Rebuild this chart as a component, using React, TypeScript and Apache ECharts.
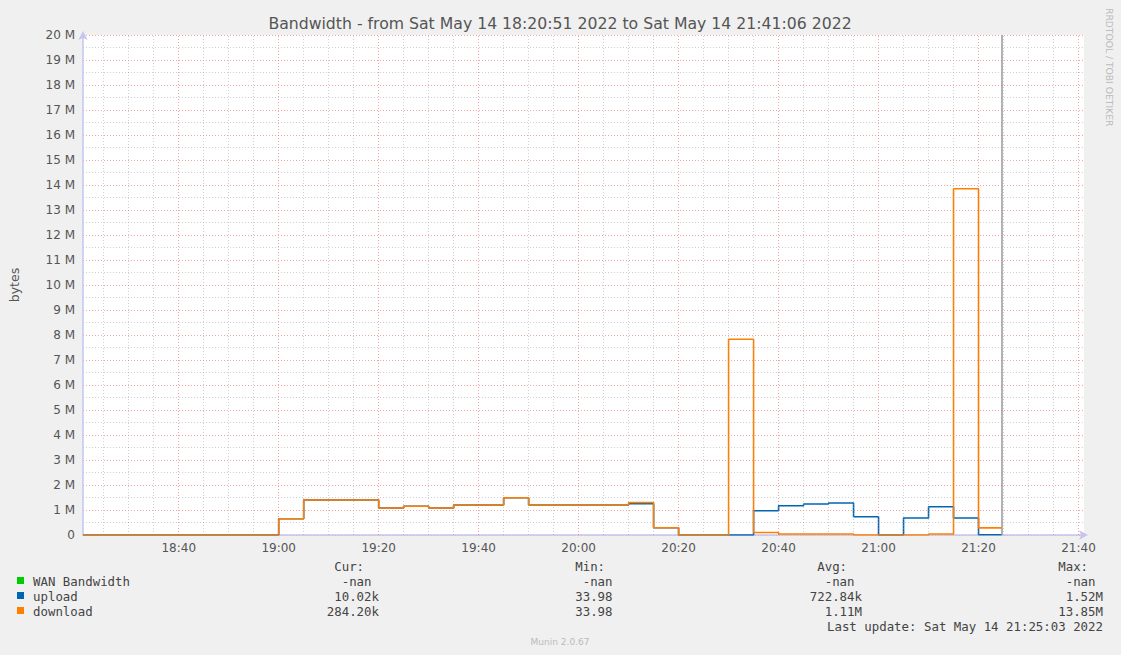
import React, { useEffect, useRef } from "react";
import * as echarts from "echarts";

// ---------- data ----------
const titleText = "Bandwidth - from Sat May 14 18:20:51 2022 to Sat May 14 21:41:06 2022";
const rangeStart = "18:20:51";
const rangeEnd = "21:41:06";
const nowTime = "21:24:40";

// period start times (5-minute munin samples, only changes listed), last entry = end of data
const times = [
  "18:20:51", "19:00", "19:05", "19:20", "19:25", "19:30", "19:35", "19:45", "19:50",
  "20:10", "20:15", "20:20", "20:30", "20:35", "20:40", "20:45", "20:50", "20:55",
  "21:00", "21:05", "21:10", "21:15", "21:20", "21:24:40",
];
// values in M bytes
const uploadM = [
  0, 0.65, 1.4, 1.08, 1.15, 1.08, 1.2, 1.49, 1.2,
  1.25, 0.29, 0.0, 0.0, 0.97, 1.17, 1.24, 1.28, 0.73,
  0.0, 0.68, 1.13, 0.68, 0.01, 0.01,
];
const downloadM = [
  0, 0.65, 1.4, 1.08, 1.15, 1.08, 1.2, 1.49, 1.2,
  1.3, 0.29, 0.0, 7.83, 0.1, 0.04, 0.04, 0.04, 0.0,
  0.0, 0.0, 0.04, 13.85, 0.284, 0.284,
];

const majorXTicks = ["18:40", "19:00", "19:20", "19:40", "20:00", "20:20", "20:40", "21:00", "21:20", "21:40"];
const yMaxM = 20;

const legendNames = ["WAN Bandwidth", "upload", "download"];
const legendColors = ["#00cc00", "#0066b3", "#ff8000"];
const curValues = ["-nan", "10.02k", "284.20k"];
const minValues = ["-nan", "33.98", "33.98"];
const avgValues = ["-nan", "722.84k", "1.11M"];
const maxValues = ["-nan", "1.52M", "13.85M"];
const lastUpdate = "Last update: Sat May 14 21:25:03 2022";

// ---------- helpers ----------
function toMin(t: string): number {
  const p = t.split(":").map(Number);
  return p[0] * 60 + p[1] + (p[2] || 0) / 60;
}
function fmtMin(v: number): string {
  const h = Math.floor(v / 60);
  const m = Math.round(v - h * 60);
  return String(h).padStart(2, "0") + ":" + String(m).padStart(2, "0");
}

export default function App() {
  const ref = useRef<HTMLDivElement>(null);

  useEffect(() => {
    if (!ref.current) return;
    const chart = echarts.init(ref.current, undefined, { renderer: "svg" });

    const xMin = toMin(rangeStart);
    const xMax = toMin(rangeEnd);
    const majors = majorXTicks.map(toMin);
    const minors: number[] = [];
    for (let v = Math.ceil(xMin / 5) * 5; v <= xMax; v += 5) {
      if (!majors.some((m) => Math.abs(m - v) < 0.01)) minors.push(v);
    }

    const upData = times.map((t, i) => [toMin(t), uploadM[i] * 1e6]);
    const downData = times.map((t, i) => [toMin(t), downloadM[i] * 1e6]);

    const gridLines = [
      ...minors.map((v) => ({
        xAxis: v,
        lineStyle: { color: "rgba(150,150,150,0.45)", type: [1, 2], width: 1 },
      })),
      ...majors.map((v) => ({
        xAxis: v,
        lineStyle: { color: "rgba(240,90,90,0.55)", type: [1, 2], width: 1 },
      })),
    ];

    const mono = "'DejaVu Sans Mono', monospace";
    const sans = "'DejaVu Sans', sans-serif";
    const monoSize = 12.4;
    const charW = 7.46;
    const rowY = [581, 596, 611];
    const cols = [
      { head: "Cur:", vals: curValues, right: 379 },
      { head: "Min:", vals: minValues, right: 620 },
      { head: "Avg:", vals: avgValues, right: 862 },
      { head: "Max:", vals: maxValues, right: 1103 },
    ];
    const graphics: any[] = [
      {
        type: "text",
        x: 560,
        y: 23,
        style: { text: titleText, font: `15.7px ${sans}`, fill: "#555", align: "center", verticalAlign: "middle" },
      },
      {
        type: "text",
        x: 14,
        y: 285,
        rotation: Math.PI / 2,
        style: { text: "bytes", font: `12.5px ${sans}`, fill: "#555", align: "center", verticalAlign: "middle" },
      },
      {
        type: "text",
        x: 1109,
        y: 8,
        rotation: -Math.PI / 2,
        style: { text: "RRDTOOL / TOBI OETIKER", font: `9.2px ${sans}`, fill: "#bbb", align: "left", verticalAlign: "middle" },
      },
      {
        type: "text",
        x: 560,
        y: 642,
        style: { text: "Munin 2.0.67", font: `9px ${sans}`, fill: "#bbb", align: "center", verticalAlign: "middle" },
      },
      {
        type: "text",
        x: 1103,
        y: 626,
        style: { text: lastUpdate, font: `${monoSize}px ${mono}`, fill: "#444", align: "right", verticalAlign: "middle" },
      },
    ];
    legendNames.forEach((n, i) => {
      graphics.push({
        type: "rect",
        shape: { x: 17, y: rowY[i] - 4, width: 7, height: 7 },
        style: { fill: legendColors[i] },
      });
      graphics.push({
        type: "text",
        x: 33,
        y: rowY[i],
        style: { text: n, font: `${monoSize}px ${mono}`, fill: "#444", align: "left", verticalAlign: "middle" },
      });
    });
    cols.forEach((c) => {
      graphics.push({
        type: "text",
        x: c.right - 2 * charW,
        y: 566,
        style: { text: c.head, font: `${monoSize}px ${mono}`, fill: "#444", align: "right", verticalAlign: "middle" },
      });
      c.vals.forEach((v, i) => {
        const hasUnit = /[kM]$/.test(v);
        graphics.push({
          type: "text",
          x: hasUnit ? c.right : c.right - charW,
          y: rowY[i],
          style: { text: v, font: `${monoSize}px ${mono}`, fill: "#444", align: "right", verticalAlign: "middle" },
        });
      });
    });

    chart.setOption({
      animation: false,
      backgroundColor: "#f0f0f0",
      grid: {
        left: 83,
        top: 35,
        right: 37,
        bottom: 120,
        show: true,
        backgroundColor: "#ffffff",
        borderWidth: 0,
      },
      xAxis: {
        type: "value",
        min: xMin,
        max: xMax,
        axisLine: {
          show: true,
          lineStyle: { color: "#c4c4ee", width: 1.5 },
          symbol: ["none", "arrow"],
          symbolSize: [7, 9],
          symbolOffset: [0, 4],
        },
        axisTick: { show: false },
        axisLabel: {
          customValues: majors,
          formatter: (v: number) => fmtMin(v),
          color: "#555",
          fontSize: 12,
          fontFamily: sans,
          margin: 7,
          showMinLabel: true,
          showMaxLabel: true,
        },
        splitLine: { show: false },
      },
      yAxis: {
        type: "value",
        min: 0,
        max: yMaxM * 1e6,
        interval: 1e6,
        axisLine: {
          show: true,
          lineStyle: { color: "#c4c4ee", width: 1.5 },
          symbol: ["none", "arrow"],
          symbolSize: [7, 9],
          symbolOffset: [0, 4],
        },
        axisTick: { show: false },
        axisLabel: {
          formatter: (v: number) => (v === 0 ? "0" : `${Math.round(v / 1e6)} M`),
          color: "#555",
          fontSize: 12,
          fontFamily: sans,
          margin: 8,
        },
        splitLine: { show: true, lineStyle: { color: "rgba(240,90,90,0.55)", type: [1, 2], width: 1 } },
        minorTick: { show: false, splitNumber: 2 },
        minorSplitLine: { show: true, lineStyle: { color: "rgba(150,150,150,0.45)", type: [1, 2], width: 1 } },
      },
      series: [
        {
          type: "line",
          name: "grid",
          data: [],
          z: 1,
          silent: true,
          markLine: {
            silent: true,
            symbol: "none",
            label: { show: false },
            animation: false,
            data: gridLines,
          },
        },
        {
          type: "line",
          name: "upload",
          data: upData,
          step: "end",
          showSymbol: false,
          symbol: "none",
          z: 3,
          lineStyle: { color: "#0066b3", width: 1.6 },
          itemStyle: { color: "#0066b3" },
        },
        {
          type: "line",
          name: "download",
          data: downData,
          step: "end",
          showSymbol: false,
          symbol: "none",
          z: 4,
          lineStyle: { color: "#ff8000", width: 1.6 },
          itemStyle: { color: "#ff8000" },
          markLine: {
            silent: true,
            symbol: "none",
            label: { show: false },
            animation: false,
            lineStyle: { color: "#999", width: 1.5, type: "solid" },
            data: [{ xAxis: toMin(nowTime) }],
          },
        },
      ],
      graphic: graphics,
    });

    return () => chart.dispose();
  }, []);

  return (
    <div
      ref={ref}
      style={{ position: "absolute", left: 0, top: 0, width: 1121, height: 655 }}
    />
  );
}
